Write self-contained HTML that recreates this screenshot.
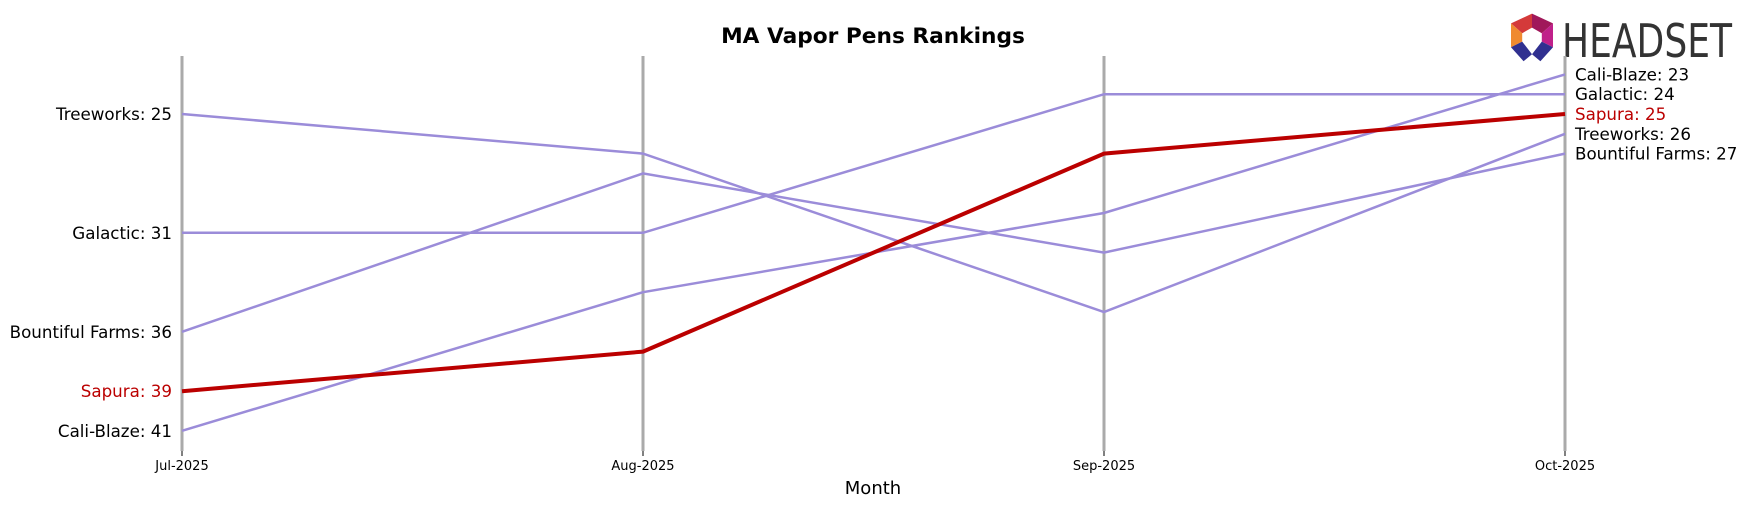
<!DOCTYPE html>
<html><head><meta charset="utf-8"><style>
body{margin:0;background:#fff;width:1746px;height:507px;overflow:hidden}
svg text{font-family:"DejaVu Sans","Liberation Sans",sans-serif}
</style></head><body>
<svg id="chart" width="1746" height="507" viewBox="0 0 1746 507" xmlns="http://www.w3.org/2000/svg">
<text x="873" y="43" text-anchor="middle" font-size="21.7" font-weight="bold" fill="#000">MA Vapor Pens Rankings</text>
<g transform="translate(1532,36) scale(1.4) translate(-1536,-32)">
<polygon points="1521,23 1536,16 1536,26 1529,30" fill="#d43a3a"/>
<polygon points="1536,16 1551,23 1543,30 1536,26" fill="#a0185a"/>
<polygon points="1551,23 1551,40 1543,36 1543,30" fill="#c0208a"/>
<polygon points="1521,23 1529,30 1529,36 1521,40" fill="#f08a30"/>
<polygon points="1521,40 1529,36 1536,45 1530,50" fill="#303090"/>
<polygon points="1551,40 1543,36 1536,45 1542,50" fill="#303090"/>
</g>
<text x="1562" y="57" font-size="46" font-family="Liberation Sans" fill="#333" textLength="170" lengthAdjust="spacingAndGlyphs">HEADSET</text>
<g id="axes"></g>
<g id="series"></g>
<text x="873" y="494" text-anchor="middle" font-size="18" fill="#000">Month</text>
</svg>
<script>
const months = ["Jul-2025","Aug-2025","Sep-2025","Oct-2025"];
const brands = ["Treeworks","Galactic","Bountiful Farms","Sapura","Cali-Blaze"];
const treeworks = [25,27,35,26];
const galactic = [31,31,24,24];
const bountiful = [36,28,32,27];
const sapura = [39,37,27,25];
const caliBlaze = [41,34,30,23];
const values = [treeworks,galactic,bountiful,sapura,caliBlaze];
const highlight = "Sapura";

const NS="http://www.w3.org/2000/svg";
const x0=182,x1=1565;
function xPos(i){return x0+(x1-x0)*i/(months.length-1);}
function yPos(r){return 114+(r-25)*19.8;}
function mk(tag,attrs,parent){const e=document.createElementNS(NS,tag);for(const k in attrs)e.setAttribute(k,attrs[k]);parent.appendChild(e);return e;}
const axes=document.getElementById('axes'),ser=document.getElementById('series');
months.forEach((m,i)=>{
  const l=mk('line',{x1:xPos(i),x2:xPos(i),y1:56,y2:451,stroke:'#aaa','stroke-width':3},axes);
  
  
  const t=mk('line',{x1:xPos(i),x2:xPos(i),y1:451,y2:456,stroke:'#000','stroke-width':1},axes);
  
  
  const tx=mk('text',{x:xPos(i),y:470,'text-anchor':'middle','font-size':13,fill:'#000'},axes);
  tx.textContent=m;
  
  
});
const order=brands.map((b,i)=>i).sort((a,b)=>(brands[a]===highlight)-(brands[b]===highlight));
order.forEach(i=>{
  const hl=brands[i]===highlight, col=hl?'#bb0000':'#9b8cd9';
  const pts=values[i].map((v,j)=>xPos(j)+','+yPos(v)).join(' ');
  const p=mk('polyline',{points:pts,fill:'none',stroke:col,'stroke-width':hl?4:2.5},ser);
  
  
});
brands.forEach((b,i)=>{
  const hl=b===highlight, col=hl?'#bb0000':'#000';
  const v=values[i];
  const l=mk('text',{x:xPos(0)-10,y:yPos(v[0])+6,'text-anchor':'end','font-size':16.7,fill:col},ser);
  l.textContent=b+': '+v[0];
  
  
  const last=v[v.length-1];
  const r=mk('text',{x:xPos(months.length-1)+10,y:yPos(last)+6,'font-size':16.7,fill:col},ser);
  r.textContent=b+': '+last;
  
  
});
</script>
</body></html>
